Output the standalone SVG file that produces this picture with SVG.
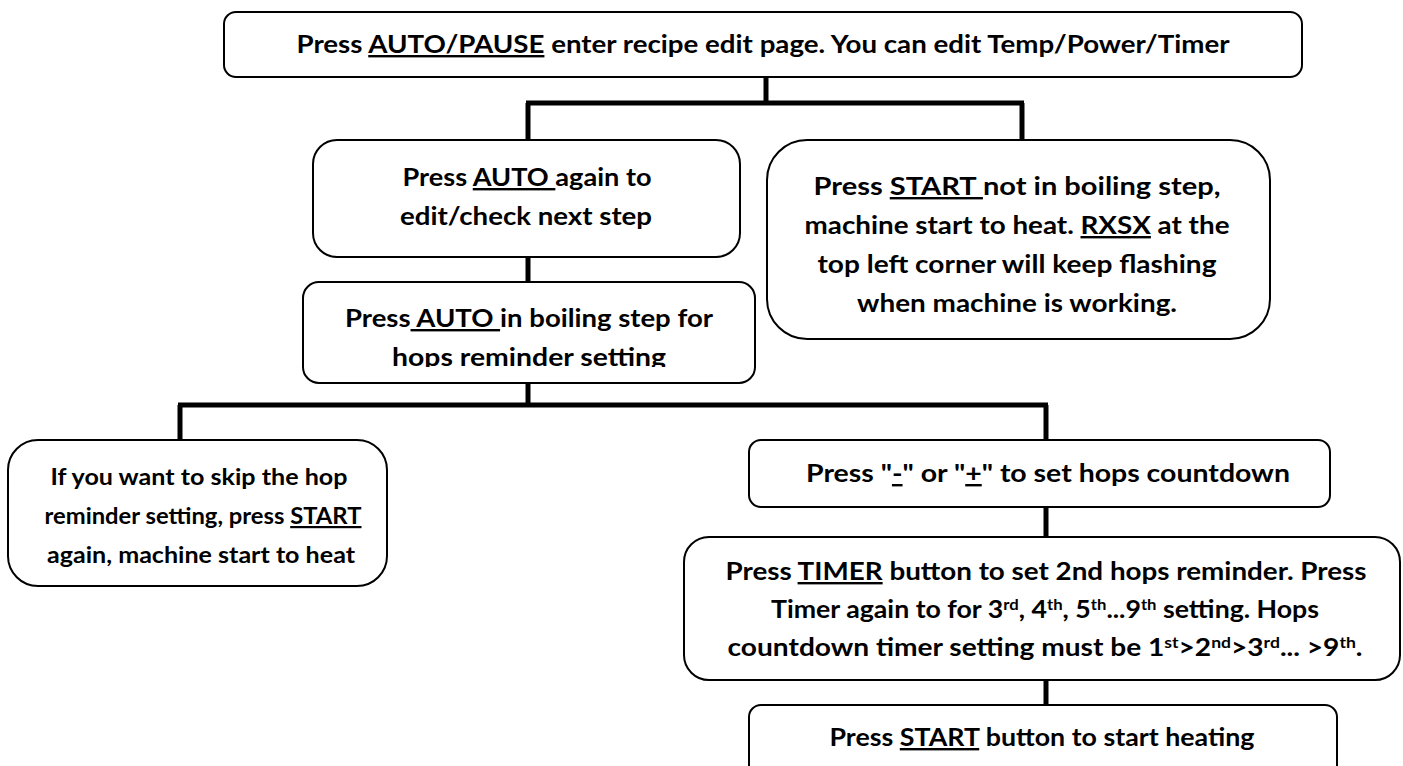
<svg xmlns="http://www.w3.org/2000/svg" width="1403" height="766" viewBox="0 0 1403 766">
<style>
.box{fill:#fff;stroke:#000;stroke-width:2}
.t{font-family:Lato,"Open Sans","Liberation Sans",sans-serif;font-weight:700;font-size:24px;fill:#000;text-anchor:middle}
.s{font-size:22px}
.u{text-decoration:underline}
.c{fill:none;stroke:#000;stroke-width:5;stroke-linecap:butt}
</style>
<defs>
<clipPath id="clip4"><rect x="290" y="270" width="480" height="97"/></clipPath>
<clipPath id="clip7"><rect x="680" y="530" width="723" height="130"/></clipPath>
</defs>
<g id="connectors">
<path class="c" d="M766,77 V103"/>
<path class="c" d="M526,103 H1024"/>
<path class="c" d="M528,103 V140"/>
<path class="c" d="M1022,103 V140"/>
<path class="c" d="M528,257 V282"/>
<path class="c" d="M528,383 V405"/>
<path class="c" d="M178,405 H1048"/>
<path class="c" d="M180,405 V440"/>
<path class="c" d="M1046,405 V440"/>
<path class="c" d="M1046,507 V537"/>
<path class="c" d="M1046,680 V705"/>
</g>
<g id="n1">
<rect class="box" x="224" y="12" width="1078" height="65" rx="12"/>
<text class="t" x="763" y="53" textLength="933" lengthAdjust="spacingAndGlyphs">Press <tspan class="u">AUTO/PAUSE</tspan> enter recipe edit page. You can edit Temp/Power/Timer</text>
</g>
<g id="n2">
<rect class="box" x="313" y="140" width="427" height="117" rx="24"/>
<text class="t" x="527" y="186" textLength="249" lengthAdjust="spacingAndGlyphs">Press <tspan class="u">AUTO </tspan>again to</text>
<text class="t" x="526" y="225" textLength="252" lengthAdjust="spacingAndGlyphs">edit/check next step</text>
</g>
<g id="n3">
<rect class="box" x="767" y="140" width="503" height="199" rx="40"/>
<text class="t" x="1017" y="195" textLength="407" lengthAdjust="spacingAndGlyphs">Press <tspan class="u">START </tspan>not in boiling step,</text>
<text class="t" x="1017" y="234" textLength="425" lengthAdjust="spacingAndGlyphs">machine start to heat. <tspan class="u">RXSX</tspan> at the</text>
<text class="t" x="1017" y="273" textLength="399" lengthAdjust="spacingAndGlyphs">top left corner will keep flashing</text>
<text class="t" x="1017" y="312" textLength="320" lengthAdjust="spacingAndGlyphs">when machine is working.</text>
</g>
<g id="n4">
<rect class="box" x="303" y="282" width="452" height="101" rx="16"/>
<text class="t" x="529" y="327" textLength="368" lengthAdjust="spacingAndGlyphs">Press<tspan class="u"> AUTO </tspan>in boiling step for</text>
<text class="t" x="529" y="366" textLength="274" lengthAdjust="spacingAndGlyphs" clip-path="url(#clip4)">hops reminder setting</text>
</g>
<g id="n5">
<rect class="box" x="8" y="440" width="379" height="146" rx="30"/>
<text class="t s" x="199" y="485" textLength="297" lengthAdjust="spacingAndGlyphs">If you want to skip the hop</text>
<text class="t s" x="203" y="524" textLength="317" lengthAdjust="spacingAndGlyphs">reminder setting, press <tspan class="u">START</tspan></text>
<text class="t s" x="201" y="563" textLength="308" lengthAdjust="spacingAndGlyphs">again, machine start to heat</text>
</g>
<g id="n6">
<rect class="box" x="749" y="440" width="581" height="67" rx="12"/>
<text class="t" x="1048" y="482" textLength="484" lengthAdjust="spacingAndGlyphs">Press "<tspan class="u">-</tspan>" or "<tspan class="u">+</tspan>" to set hops countdown</text>
</g>
<g id="n7">
<rect class="box" x="684" y="537" width="716" height="143" rx="25"/>
<text class="t" x="1046" y="580" textLength="641" lengthAdjust="spacingAndGlyphs">Press <tspan class="u">TIMER</tspan> button to set 2nd hops reminder. Press</text>
<text class="t" x="1045" y="618" textLength="548" lengthAdjust="spacingAndGlyphs">Timer again to for 3<tspan dy="-8" font-size="15">rd</tspan><tspan dy="8">, 4</tspan><tspan dy="-8" font-size="15">th</tspan><tspan dy="8">, 5</tspan><tspan dy="-8" font-size="15">th</tspan><tspan dy="8">...9</tspan><tspan dy="-8" font-size="15">th</tspan><tspan dy="8"> setting. Hops</tspan></text>
<text class="t" x="1045" y="656" textLength="635" lengthAdjust="spacingAndGlyphs" clip-path="url(#clip7)">countdown timer setting must be 1<tspan dy="-8" font-size="15">st</tspan><tspan dy="8">&gt;2</tspan><tspan dy="-8" font-size="15">nd</tspan><tspan dy="8">&gt;3</tspan><tspan dy="-8" font-size="15">rd</tspan><tspan dy="8">... &gt;9</tspan><tspan dy="-8" font-size="15">th</tspan><tspan dy="8">.</tspan></text>
</g>
<g id="n8">
<rect class="box" x="749" y="705" width="588" height="80" rx="12"/>
<text class="t" x="1042" y="746" textLength="425" lengthAdjust="spacingAndGlyphs">Press <tspan class="u">START</tspan> button to start heating</text>
</g>
</svg>
